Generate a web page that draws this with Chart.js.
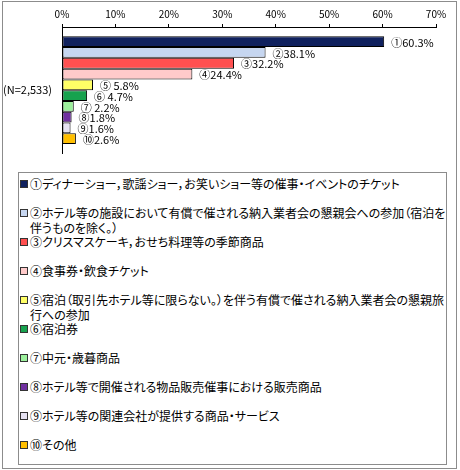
<!DOCTYPE html>
<html>
<head>
<meta charset="utf-8">
<script src="https://cdn.jsdelivr.net/npm/chart.js@4"></script>
<style>
  body { margin: 0; background: #fff; }
  #frame { position: absolute; left: 2px; top: 1px; width: 455px; height: 468px; border: 1px solid #8c8c8c; box-sizing: border-box; }
  #chartBox { position: absolute; left: 0; top: 0; width: 460px; height: 170px; }
  #legend { position: absolute; left: 18px; top: 172px; width: 429px; height: 293px; border: 1px solid #8c8c8c; box-sizing: border-box; padding-top: 3px;
    font-family: "Noto Sans CJK JP", sans-serif; font-size: 12px; line-height: 15px; color: #000; font-feature-settings: "palt"; }
  .item { position: relative; height: 29px; padding-left: 11px; white-space: nowrap; }
  .item .box { position: absolute; left: 1px; top: 4px; width: 6px; height: 6px; border: 1px solid #333; }
</style>
</head>
<body>
<div id="frame"></div>
<div id="chartBox"><canvas id="myChart"></canvas></div>
<div id="legend"></div>
<script>
const groupLabel = ['(N=2,533)'];
const marks = ['①', '②', '③', '④', '⑤', '⑥', '⑦', '⑧', '⑨', '⑩'];
const seriesNames = [
  ['ディナーショー，歌謡ショー，お笑いショー等の催事・イベントのチケット'],
  ['ホテル等の施設において有償で催される納入業者会の懇親会への参加（宿泊を', '伴うものを除く。）'],
  ['クリスマスケーキ，おせち料理等の季節商品'],
  ['食事券・飲食チケット'],
  ['宿泊（取引先ホテル等に限らない。）を伴う有償で催される納入業者会の懇親旅', '行への参加'],
  ['宿泊券'],
  ['中元・歳暮商品'],
  ['ホテル等で開催される物品販売催事における販売商品'],
  ['ホテル等の関連会社が提供する商品・サービス'],
  ['その他']
];
const values = [60.3, 38.1, 32.2, 24.4, 5.8, 4.7, 2.2, 1.8, 1.6, 2.6];
const labelMarks = ['①', '②', '③', '④', '⑤ ', '⑥ ', '⑦ ', '⑧', '⑨', '⑩'];
const colors = ['#10215e', '#c6d6f0', '#ff5050', '#ffcaca', '#ffff66', '#17a24e', '#9cf09c', '#7030a0', '#e6e2f2', '#ffbf00'];
const xTicks = [0, 10, 20, 30, 40, 50, 60, 70];

const jp = '"Noto Sans CJK JP", sans-serif';

// legend (HTML, wraps like the original)
const legend = document.getElementById('legend');
seriesNames.forEach((lines, i) => {
  const d = document.createElement('div');
  d.className = 'item';
  d.innerHTML = '<span class="box" style="background:' + colors[i] + '"></span>' +
    marks[i] + lines.join('<br>');
  legend.appendChild(d);
});

const valueLabels = {
  id: 'valueLabels',
  afterDatasetsDraw(chart) {
    const ctx = chart.ctx;
    ctx.save();
    ctx.font = '11px ' + jp;
    ctx.fillStyle = '#000';
    ctx.textAlign = 'left';
    ctx.textBaseline = 'middle';
    chart.data.datasets.forEach((ds, i) => {
      const el = chart.getDatasetMeta(i).data[0];
      ctx.fillText(labelMarks[i] + values[i].toFixed(1) + '%', el.x + 7, el.y + 1);
    });
    ctx.restore();
  }
};

new Chart(document.getElementById('myChart'), {
  type: 'bar',
  data: {
    labels: groupLabel,
    datasets: values.map((v, i) => ({
      label: marks[i] + seriesNames[i].join(''),
      data: [v],
      backgroundColor: colors[i],
      borderColor: '#000',
      borderWidth: 1,
      borderSkipped: false,
      categoryPercentage: 0.853,
      barPercentage: 1
    }))
  },
  options: {
    indexAxis: 'y',
    responsive: true,
    maintainAspectRatio: false,
    animation: false,
    layout: { padding: { left: 0, top: 0, right: 24, bottom: 7 } },
    scales: {
      x: {
        position: 'top',
        min: 0,
        max: 70,
        afterBuildTicks: s => { s.ticks = xTicks.map(v => ({ value: v })); },
        afterFit: s => { s.height = 27; },
        ticks: { callback: v => v + '%', font: { family: jp, size: 10 }, color: '#000', padding: 4, maxRotation: 0 },
        grid: { drawOnChartArea: false, drawTicks: true, tickLength: 3, color: '#000' },
        border: { color: '#000' }
      },
      y: {
        afterFit: s => { s.width = 62; },
        ticks: { font: { family: jp, size: 11 }, color: '#000', padding: 10 },
        grid: { display: false, drawTicks: false },
        border: { display: true, color: '#000' }
      }
    },
    plugins: {
      legend: { display: false },
      tooltip: { enabled: false }
    }
  },
  plugins: [valueLabels]
});
</script>
</body>
</html>
